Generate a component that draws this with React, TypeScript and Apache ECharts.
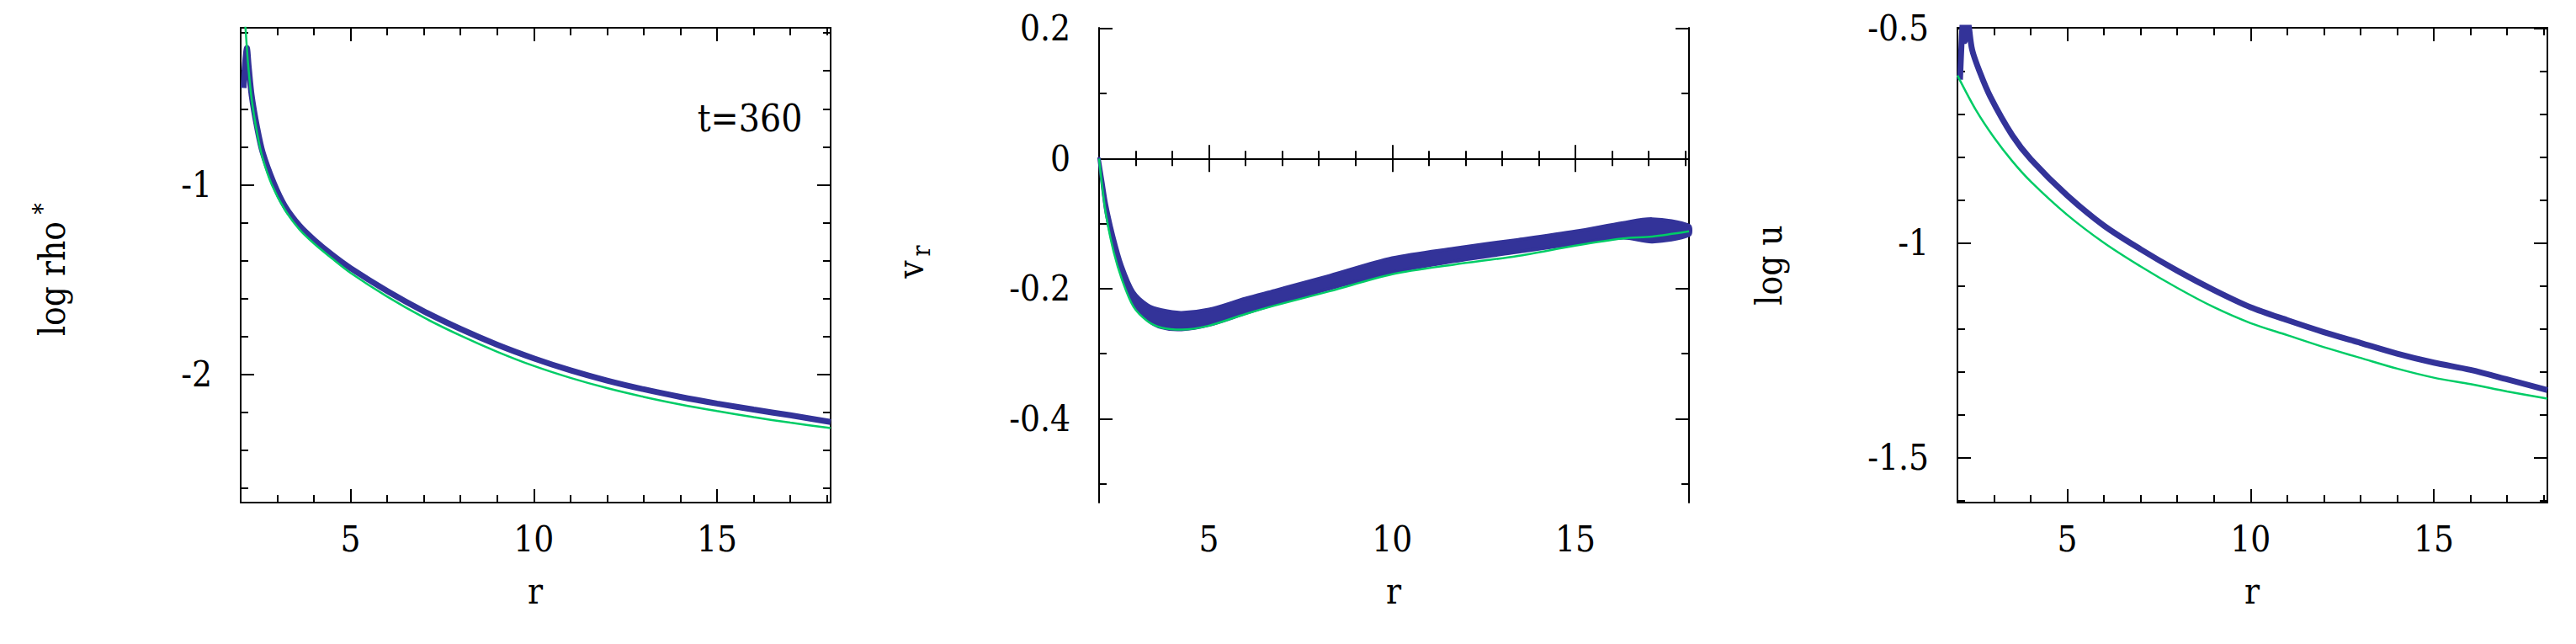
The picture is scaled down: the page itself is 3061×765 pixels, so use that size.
import React, { useEffect, useRef } from "react";
import * as echarts from "echarts";

// ---------- shared x axis ----------
const X_MIN = 2;
const X_MAX = 18.1;
const xMajor = [5, 10, 15];
const xMinor = [3, 4, 6, 7, 8, 9, 11, 12, 13, 14, 16, 17, 18];

// ---------- panel 1 : log rho* ----------
const rhoRange = [-2.675, -0.173];
const rhoMajor = [-1, -2];
const rhoMinor = [-0.2, -0.4, -0.6, -0.8, -1.2, -1.4, -1.6, -1.8, -2.2, -2.4, -2.6];
const rhoSimR = [2.08, 2.12, 2.17, 2.22, 2.3, 2.45, 2.6, 2.9, 3.2, 3.6, 4, 4.5, 5, 6, 7, 8, 9, 10, 11, 12, 13, 14, 15, 16, 17, 18.1];
const rhoSimV = [-0.49, -0.36, -0.28, -0.38, -0.53, -0.7, -0.83, -0.99, -1.11, -1.215, -1.29, -1.37, -1.44, -1.56, -1.667, -1.76, -1.843, -1.915, -1.978, -2.032, -2.078, -2.118, -2.153, -2.185, -2.215, -2.25];
const rhoRefR = [2.1, 2.13, 2.2, 2.3, 2.45, 2.6, 2.85, 3.2, 3.6, 4, 4.5, 5, 6, 7, 8, 9, 10, 11, 12, 13, 14, 15, 16, 17, 18.1];
const rhoRefV = [-0.1, -0.17, -0.36, -0.55, -0.73, -0.86, -1.0, -1.13, -1.235, -1.31, -1.39, -1.465, -1.59, -1.7, -1.795, -1.88, -1.955, -2.018, -2.072, -2.118, -2.158, -2.193, -2.225, -2.254, -2.282];

// ---------- panel 2 : v_r ----------
const vrRange = [-0.529, 0.201];
const vrMajor = [0.2, 0, -0.2, -0.4];
const vrMinor = [0.1, -0.1, -0.3, -0.5];
const vrR = [2.0, 2.1, 2.2, 2.4, 2.63, 2.94, 3.32, 3.71, 4.25, 5.0, 6.0, 6.8, 8.3, 10, 11.7, 13.4, 15, 16.3, 17.1, 18.1];
const vrSimLow = [0, -0.045, -0.085, -0.135, -0.18, -0.222, -0.248, -0.26, -0.263, -0.256, -0.238, -0.224, -0.2, -0.175, -0.158, -0.144, -0.131, -0.122, -0.128, -0.118];
const vrSimHigh = [0, -0.035, -0.07, -0.12, -0.165, -0.205, -0.225, -0.233, -0.237, -0.232, -0.215, -0.203, -0.18, -0.153, -0.138, -0.125, -0.112, -0.099, -0.093, -0.103];
const vrRefV = [0, -0.05, -0.09, -0.144, -0.187, -0.228, -0.25, -0.26, -0.263, -0.257, -0.239, -0.226, -0.204, -0.178, -0.163, -0.15, -0.134, -0.123, -0.12, -0.112];

// ---------- panel 3 : log u ----------
const uRange = [-1.605, -0.499];
const uMajor = [-0.5, -1, -1.5];
const uMinor = [-0.6, -0.7, -0.8, -0.9, -1.1, -1.2, -1.3, -1.4, -1.6];
const uSimR = [2.07, 2.12, 2.16, 2.2, 2.24, 2.3, 2.4, 2.6, 2.9, 3.5, 4, 5, 6, 7, 8, 9, 10, 11, 12, 13, 14, 15, 16, 17, 18.1];
const uSimV = [-0.62, -0.52, -0.47, -0.53, -0.47, -0.49, -0.55, -0.6, -0.66, -0.75, -0.805, -0.89, -0.96, -1.015, -1.065, -1.11, -1.15, -1.18, -1.208, -1.233, -1.258, -1.279, -1.296, -1.318, -1.343];
const uRefR = [2.0, 2.5, 3, 3.5, 4, 5, 6, 7, 8, 9, 10, 11, 12, 13, 14, 15, 16, 17, 18.1];
const uRefV = [-0.61, -0.69, -0.755, -0.81, -0.857, -0.935, -1.0, -1.055, -1.105, -1.15, -1.187, -1.215, -1.243, -1.268, -1.293, -1.314, -1.329, -1.346, -1.363];

const BLUE = "#333399";
const GREEN = "#00cc66";
const FONT = "DejaVu Serif Condensed, DejaVu Serif";
const TICK_SIZE = 42;
const TITLE_SIZE = 42;

const pairs = (xs: number[], ys: number[]) => xs.map((x, i) => [x, ys[i]]);

const GRID_LEFT = 286;
const GRID_TOP = 33;
const GRID_W = 701;
const GRID_H = 564;
const PANEL_DX = 1020;

function buildOption() {
  const grids: any[] = [];
  const xAxes: any[] = [];
  const yAxes: any[] = [];
  const series: any[] = [];
  const line = { color: "#000", width: 2 };
  const labelStyle = { fontSize: TICK_SIZE, fontFamily: FONT, color: "#000" };

  const panels = [
    { range: rhoRange, major: rhoMajor, minor: rhoMinor },
    { range: vrRange, major: vrMajor, minor: vrMinor },
    { range: uRange, major: uMajor, minor: uMinor },
  ];

  panels.forEach((p, i) => {
    grids.push({ left: GRID_LEFT + i * PANEL_DX, top: GRID_TOP, width: GRID_W, height: GRID_H, show: false });
    const xBase = { type: "value", gridIndex: i, min: X_MIN, max: X_MAX, splitLine: { show: false } };
    xAxes.push({
      ...xBase, position: "bottom",
      axisLine: { show: true, lineStyle: line },
      axisTick: { show: true, inside: true, length: 16, customValues: xMajor, lineStyle: line },
      axisLabel: { show: true, customValues: xMajor, margin: 22, ...labelStyle },
    });
    xAxes.push({
      ...xBase, position: "bottom",
      axisLine: { show: false },
      axisTick: { show: true, inside: true, length: 9, customValues: xMinor, lineStyle: line },
      axisLabel: { show: false },
    });
    xAxes.push({
      ...xBase, position: "top",
      axisLine: { show: true, lineStyle: line },
      axisTick: { show: true, inside: true, length: 16, customValues: xMajor, lineStyle: line },
      axisLabel: { show: false },
    });
    xAxes.push({
      ...xBase, position: "top",
      axisLine: { show: false },
      axisTick: { show: true, inside: true, length: 9, customValues: xMinor, lineStyle: line },
      axisLabel: { show: false },
    });
    const yBase = { type: "value", gridIndex: i, min: p.range[0], max: p.range[1], splitLine: { show: false } };
    yAxes.push({
      ...yBase, position: "left",
      axisLine: { show: true, lineStyle: line },
      axisTick: { show: true, inside: true, length: 16, customValues: p.major, lineStyle: line },
      axisLabel: { show: true, customValues: p.major, margin: 34, ...labelStyle },
    });
    yAxes.push({
      ...yBase, position: "left",
      axisLine: { show: false },
      axisTick: { show: true, inside: true, length: 9, customValues: p.minor, lineStyle: line },
      axisLabel: { show: false },
    });
    yAxes.push({
      ...yBase, position: "right",
      axisLine: { show: true, lineStyle: line },
      axisTick: { show: true, inside: true, length: 16, customValues: p.major, lineStyle: line },
      axisLabel: { show: false },
    });
    yAxes.push({
      ...yBase, position: "right",
      axisLine: { show: false },
      axisTick: { show: true, inside: true, length: 9, customValues: p.minor, lineStyle: line },
      axisLabel: { show: false },
    });
  });

  const base = (i: number) => ({
    type: "line", xAxisIndex: 4 * i, yAxisIndex: 4 * i, showSymbol: false, symbol: "none",
    smooth: 0.3, clip: true, silent: true,
  });

  // panel 1
  series.push({ ...base(0), name: "sim", data: pairs(rhoSimR, rhoSimV), lineStyle: { color: BLUE, width: 7 } });
  series.push({ ...base(0), name: "ref", data: pairs(rhoRefR, rhoRefV), lineStyle: { color: GREEN, width: 2.5 } });

  // panel 2: band between the low and high envelopes, drawn as one polygon through the axis scales
  series.push({
    type: "custom", xAxisIndex: 4, yAxisIndex: 4, silent: true,
    encode: { x: 0, y: [1, 2] },
    data: vrR.map((r, k) => [r, vrSimLow[k], vrSimHigh[k]]),
    renderItem: (params: any, api: any) => {
      if (params.dataIndex !== 0) return null;
      const upper = vrR.map((r, k) => api.coord([r, vrSimHigh[k]]));
      const lower = vrR.map((r, k) => api.coord([r, vrSimLow[k]])).reverse();
      return {
        type: "polygon",
        shape: { points: upper.concat(lower), smooth: 0.3 },
        style: { fill: BLUE, stroke: BLUE, lineWidth: 4, lineJoin: "round" },
      };
    },
  });
  series.push({ ...base(1), name: "ref", data: pairs(vrR, vrRefV), lineStyle: { color: GREEN, width: 2.5 } });

  // panel 3
  series.push({ ...base(2), name: "sim", data: pairs(uSimR, uSimV), lineStyle: { color: BLUE, width: 7 } });
  series.push({ ...base(2), name: "ref", data: pairs(uRefR, uRefV), lineStyle: { color: GREEN, width: 2.5 } });

  const txt = (text: string, x: number, y: number, size: number, rot = 0) => ({
    type: "text", x, y, rotation: rot, silent: true,
    style: { text, fill: "#000", fontSize: size, fontFamily: FONT, align: "center", verticalAlign: "middle" },
  });
  const R90 = Math.PI / 2;
  const graphic: any[] = [
    txt("log rho", 62, 331, TITLE_SIZE, R90),
    txt("*", 49, 248, 30, R90),
    txt("v", 1020 + 62, 320, TITLE_SIZE, R90),
    txt("r", 1020 + 74, 298, 30, R90),
    txt("log u", 2040 + 62, 315, TITLE_SIZE, R90),
    txt("t=360", 891, 140, 44),
  ];
  for (let i = 0; i < 3; i++) graphic.push(txt("r", i * PANEL_DX + 636, 702, TITLE_SIZE));

  return {
    animation: false,
    backgroundColor: "#fff",
    grid: grids,
    xAxis: xAxes,
    yAxis: yAxes,
    series,
    graphic,
  };
}

export default function App() {
  const ref = useRef<HTMLDivElement>(null);
  useEffect(() => {
    if (!ref.current) return;
    const chart = echarts.init(ref.current, null, { renderer: "svg" });
    chart.setOption(buildOption() as any);
    return () => chart.dispose();
  }, []);
  return (
    <div
      ref={ref}
      style={{ position: "fixed", left: 0, top: 0, width: 3061, height: 765, background: "#fff" }}
    />
  );
}
